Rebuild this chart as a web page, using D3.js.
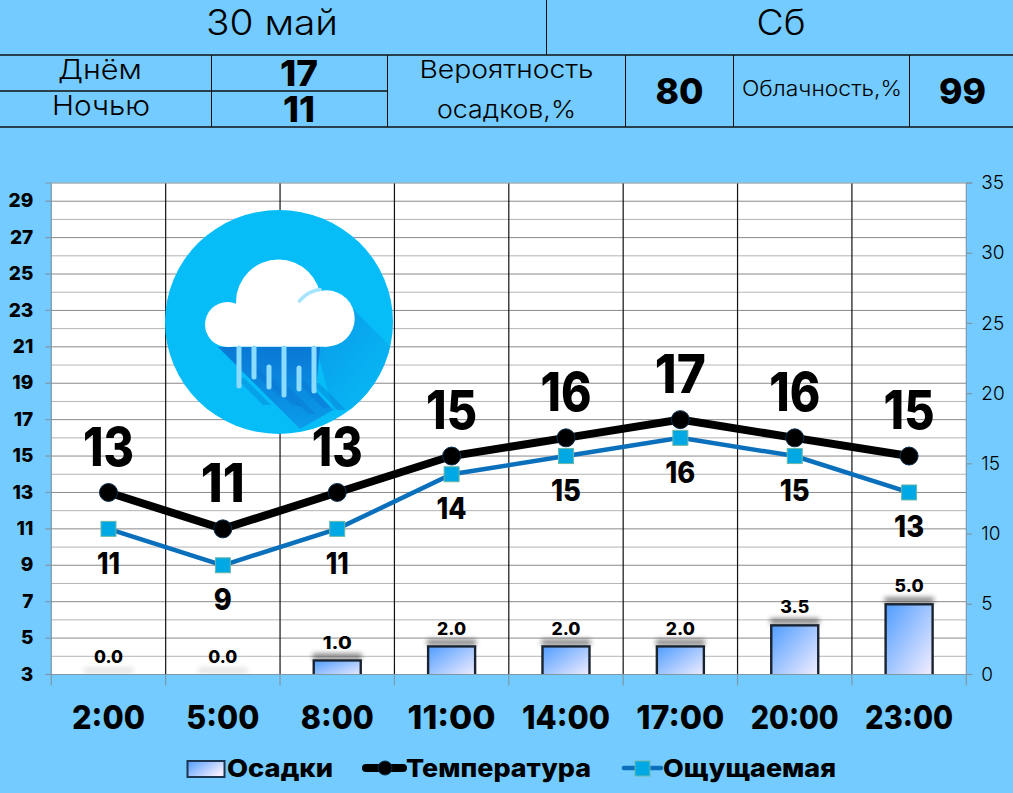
<!DOCTYPE html>
<html>
<head>
<meta charset="utf-8">
<script src="https://cdnjs.cloudflare.com/ajax/libs/d3/7.8.5/d3.min.js"></script>
<style>
  html, body { margin: 0; padding: 0; background: #74cbff; }
  svg { display: block; }
  text { font-family: Inter, "Open Sans", sans-serif; fill: #000; }
</style>
</head>
<body>
<div id="chart"></div>
<script>
const hours = ["2:00", "5:00", "8:00", "11:00", "14:00", "17:00", "20:00", "23:00"];
const temperature = [13, 11, 13, 15, 16, 17, 16, 15];
const feelsLike = [11, 9, 11, 14, 15, 16, 15, 13];
const precipitation = [0, 0, 1, 2, 2, 2, 3.5, 5];
const tempTicks = [3, 5, 7, 9, 11, 13, 15, 17, 19, 21, 23, 25, 27, 29];
const tempGrid = d3.range(3, 31);
const precipTicks = [0, 5, 10, 15, 20, 25, 30, 35];
const dropLines = [[239, 348, 386], [254, 348, 377], [269, 367, 387], [284, 348, 395], [299, 368, 389], [314, 348, 391]];

const width = 1013, height = 793;
const plotLeft = 51.3, plotRight = 966.3, plotTop = 183, plotBottom = 674.5;

const svg = d3.select("#chart").append("svg").attr("width", width).attr("height", height);
const defs = svg.append("defs");

function gradient(id, x2, y2, from, to) {
  const g = defs.append("linearGradient").attr("id", id)
    .attr("x1", 0).attr("y1", 0).attr("x2", x2).attr("y2", y2);
  g.append("stop").attr("offset", "0%").attr("stop-color", from);
  g.append("stop").attr("offset", "100%").attr("stop-color", to);
}
gradient("barGrad", 1, 1, "#4f9dff", "#f8f0ff");
gradient("legendGrad", 1, 0.6, "#4f9dff", "#f4eeff");
gradient("iconDark", 0, 1, "#0a78d6", "#0a9cea");
gradient("iconLight", 1, 1, "#0a9ae8", "#06bdf7");

defs.append("filter").attr("id", "blur").attr("x", "-20%").attr("y", "-150%").attr("width", "140%").attr("height", "400%")
  .append("feGaussianBlur").attr("stdDeviation", 2.6);
defs.append("clipPath").attr("id", "plotClip").append("rect")
  .attr("x", plotLeft).attr("y", plotTop).attr("width", plotRight - plotLeft).attr("height", plotBottom - plotTop);
defs.append("clipPath").attr("id", "iconClip").append("ellipse")
  .attr("cx", 279).attr("cy", 322).attr("rx", 114).attr("ry", 112);

// stretches a label to the width it has in the picture
function label(g, str, x, y, size, weight, w) {
  const t = g.append("text").attr("x", x).attr("y", y).attr("dy", "0.36em")
    .attr("text-anchor", "middle").attr("font-size", size).attr("font-weight", weight).text(str);
  if (w) t.attr("textLength", w).attr("lengthAdjust", "spacingAndGlyphs");
  return t;
}

// header table
const head = svg.append("g");
[[0, 1013, 55, 55], [0, 1013, 127, 127], [0, 387, 91, 91]].forEach(d =>
  head.append("line").attr("x1", d[0]).attr("x2", d[1]).attr("y1", d[2]).attr("y2", d[3]).attr("stroke", "#111").attr("stroke-width", 1.3));
[[546.5, 0, 55], [211.5, 55, 127], [387.5, 55, 127], [625.5, 55, 127], [733.5, 55, 127], [909.5, 55, 127]].forEach(d =>
  head.append("line").attr("x1", d[0]).attr("x2", d[0]).attr("y1", d[1]).attr("y2", d[2]).attr("stroke", "#111").attr("stroke-width", 1));

label(head, "30 май", 272, 22, 35, 300, 132);
label(head, "Сб", 781, 22, 35, 300, 49);
label(head, "Днём", 100, 69, 27, 300, 84);
label(head, "Ночью", 101, 105, 27, 300, 98);
label(head, "17", 299, 73, 36, 800, 38);
label(head, "11", 299, 109, 36, 800, 32);
label(head, "Вероятность", 506.5, 69, 24, 300, 174);
label(head, "осадков,%", 506.5, 109, 24, 300, 139);
label(head, "80", 679.5, 91, 36, 800, 48);
label(head, "Облачность,%", 822, 88, 21, 300, 160);
label(head, "99", 962.5, 91, 36, 800, 47);

// scales
const x = d3.scaleBand().domain(hours).range([plotLeft, plotRight]);
const yTemp = d3.scaleLinear().domain([3, 30]).range([plotBottom, plotTop]);
const yRain = d3.scaleLinear().domain([0, 35]).range([plotBottom, plotTop]);
const cx = d => x(d) + x.bandwidth() / 2;
const barW = 47;

// plot background and grid
svg.append("rect").attr("x", plotLeft).attr("y", plotTop).attr("width", plotRight - plotLeft).attr("height", plotBottom - plotTop).attr("fill", "#fff");
svg.append("g").selectAll("line").data(tempGrid).join("line")
  .attr("x1", plotLeft).attr("x2", plotRight)
  .attr("y1", d => yTemp(d)).attr("y2", d => yTemp(d))
  .attr("stroke", d => d % 2 ? "#8a8a8a" : "#b4b4b4").attr("stroke-width", 1);
svg.append("g").selectAll("line").data(hours.slice(1)).join("line")
  .attr("x1", d => x(d)).attr("x2", d => x(d))
  .attr("y1", plotTop).attr("y2", plotBottom)
  .attr("stroke", "#111").attr("stroke-width", 1.2);

// bars
const bars = svg.append("g").attr("clip-path", "url(#plotClip)");
bars.selectAll("rect.glow").data(precipitation).join("rect").attr("class", "glow")
  .attr("x", (d, i) => cx(hours[i]) - barW / 2 - 1)
  .attr("width", barW + 2)
  .attr("y", d => yRain(d) - 7)
  .attr("height", 6)
  .attr("fill", "#444")
  .attr("opacity", d => d > 0 ? 0.65 : 0.14)
  .attr("filter", "url(#blur)");
bars.selectAll("rect.bar").data(precipitation).join("rect").attr("class", "bar")
  .attr("x", (d, i) => cx(hours[i]) - barW / 2)
  .attr("width", barW)
  .attr("y", d => yRain(d))
  .attr("height", d => plotBottom - yRain(d) + 3)
  .attr("fill", "url(#barGrad)")
  .attr("stroke", "#1a2430").attr("stroke-width", 2.4)
  .attr("display", d => d > 0 ? null : "none");

// weather icon
const icon = svg.append("g");
icon.append("ellipse").attr("cx", 279).attr("cy", 322).attr("rx", 114).attr("ry", 112).attr("fill", "#06bdf7");
const shade = icon.append("g").attr("clip-path", "url(#iconClip)");
shade.append("path").attr("d", "M316,347 L352,308 L396,352 L372,408 L333,410 Z").attr("fill", "url(#iconLight)");
shade.append("path").attr("d", "M218,347 L300,429 L333,410 L316,391 L320,347 Z").attr("fill", "url(#iconDark)");
dropLines.forEach(d => {
  shade.append("path")
    .attr("d", `M${d[0] - 3},${d[2] - 8} L${d[0] + 5},${d[2] - 8} L${d[0] + 32},${d[2] + 19} L${d[0] + 24},${d[2] + 19} Z`)
    .attr("fill", "#0a6fcf").attr("opacity", 0.35);
});
const cloud = icon.append("g").attr("fill", "#fff");
cloud.append("circle").attr("cx", 227.5).attr("cy", 324.5).attr("r", 22.5);
cloud.append("circle").attr("cx", 278.5).attr("cy", 302).attr("r", 42.5);
cloud.append("circle").attr("cx", 326.5).attr("cy", 318.5).attr("r", 28.2);
cloud.append("rect").attr("x", 227).attr("y", 312).attr("width", 100).attr("height", 34.7);
icon.append("path").attr("d", "M299.5,301 Q308,291 320,289.5").attr("fill", "none")
  .attr("stroke", "#a6e4fb").attr("stroke-width", 3.6).attr("stroke-linecap", "round");
icon.selectAll("line.drop").data(dropLines).join("line").attr("class", "drop")
  .attr("x1", d => d[0]).attr("x2", d => d[0]).attr("y1", d => d[1]).attr("y2", d => d[2])
  .attr("stroke", "#8cdcff").attr("stroke-width", 5).attr("stroke-linecap", "round");

// axes
const axisColor = "#7d98a8";
const axisLeft = svg.append("g").attr("transform", `translate(${plotLeft},0)`)
  .call(d3.axisLeft(yTemp).offset(0).tickValues(tempTicks).tickSize(6).tickPadding(12).tickFormat(d3.format("d")));
axisLeft.selectAll("text").attr("font-size", 19).attr("font-weight", 800);
const axisRight = svg.append("g").attr("transform", `translate(${plotRight},0)`)
  .call(d3.axisRight(yRain).offset(0).tickValues(precipTicks).tickSize(6).tickPadding(9).tickFormat(d3.format("d")));
axisRight.selectAll("text").attr("font-size", 19).attr("font-weight", 300).attr("fill", "#222");
const axisBottom = svg.append("g").attr("transform", `translate(0,${plotBottom})`)
  .call(d3.axisBottom(x).offset(0).tickSize(0).tickPadding(0));
axisBottom.selectAll(".tick").remove();
svg.append("g").selectAll("line").data(x.domain().map(d => x(d)).concat(plotRight)).join("line")
  .attr("x1", d => d).attr("x2", d => d).attr("y1", plotBottom).attr("y2", plotBottom + 11)
  .attr("stroke", axisColor).attr("stroke-width", 1.2);
[axisLeft, axisRight, axisBottom].forEach(a => a.selectAll("path, line").attr("stroke", axisColor).attr("stroke-width", 1.2));
svg.append("line").attr("x1", plotLeft).attr("x2", plotRight).attr("y1", plotTop).attr("y2", plotTop).attr("stroke", "#9ab0bd");

// lines
const lineTemp = d3.line().x((d, i) => cx(hours[i])).y(d => yTemp(d));
svg.append("path").datum(feelsLike).attr("d", lineTemp).attr("fill", "none").attr("stroke", "#0a70bc").attr("stroke-width", 4.5);
svg.append("g").selectAll("rect").data(feelsLike).join("rect")
  .attr("x", (d, i) => cx(hours[i]) - 7.5).attr("y", d => yTemp(d) - 7.5)
  .attr("width", 15).attr("height", 15)
  .attr("fill", "#00a8e4").attr("stroke", "#6db8a8").attr("stroke-width", 1);
svg.append("path").datum(temperature).attr("d", lineTemp).attr("fill", "none").attr("stroke", "#000").attr("stroke-width", 8);
svg.append("g").selectAll("circle").data(temperature).join("circle")
  .attr("cx", (d, i) => cx(hours[i])).attr("cy", d => yTemp(d)).attr("r", 9)
  .attr("fill", "#000").attr("stroke", "#0a3050").attr("stroke-width", 1);

// value labels
const labels = svg.append("g");
temperature.forEach((d, i) => label(labels, d, cx(hours[i]), yTemp(d) - 46, 54, 800, d === 11 ? 44 : 51));
feelsLike.forEach((d, i) => label(labels, d, cx(hours[i]), yTemp(d) + 34, 30, 800, d === 9 ? 18 : (d === 11 ? 23 : 30)));
precipitation.forEach((d, i) => label(labels, d3.format(".1f")(d), cx(hours[i]), yRain(d) - 18, 17, 800, 29));
hours.forEach(d => label(labels, d, cx(d), 717, 33, 800, d.length > 4 ? 88 : 73));

// legend
const legend = svg.append("g");
legend.append("rect").attr("x", 187.5).attr("y", 761).attr("width", 37).attr("height", 16)
  .attr("fill", "url(#legendGrad)").attr("stroke", "#1c3550").attr("stroke-width", 2);
legend.append("text").attr("x", 227).attr("y", 768).attr("dy", "0.36em").attr("font-size", 25).attr("font-weight", 800)
  .attr("textLength", 106).attr("lengthAdjust", "spacingAndGlyphs").text("Осадки");
legend.append("line").attr("x1", 366).attr("x2", 403).attr("y1", 768).attr("y2", 768)
  .attr("stroke", "#000").attr("stroke-width", 8).attr("stroke-linecap", "round");
legend.append("circle").attr("cx", 385).attr("cy", 768).attr("r", 7).attr("fill", "#000").attr("stroke", "#0a3050");
legend.append("text").attr("x", 406).attr("y", 768).attr("dy", "0.36em").attr("font-size", 25).attr("font-weight", 800)
  .attr("textLength", 185).attr("lengthAdjust", "spacingAndGlyphs").text("Температура");
legend.append("line").attr("x1", 624).attr("x2", 661).attr("y1", 768).attr("y2", 768)
  .attr("stroke", "#0a70bc").attr("stroke-width", 4.5).attr("stroke-linecap", "round");
legend.append("rect").attr("x", 635).attr("y", 761).attr("width", 15).attr("height", 15)
  .attr("fill", "#00a8e4").attr("stroke", "#6db8a8");
legend.append("text").attr("x", 663).attr("y", 768).attr("dy", "0.36em").attr("font-size", 25).attr("font-weight", 800)
  .attr("textLength", 173).attr("lengthAdjust", "spacingAndGlyphs").text("Ощущаемая");
</script>
</body>
</html>
